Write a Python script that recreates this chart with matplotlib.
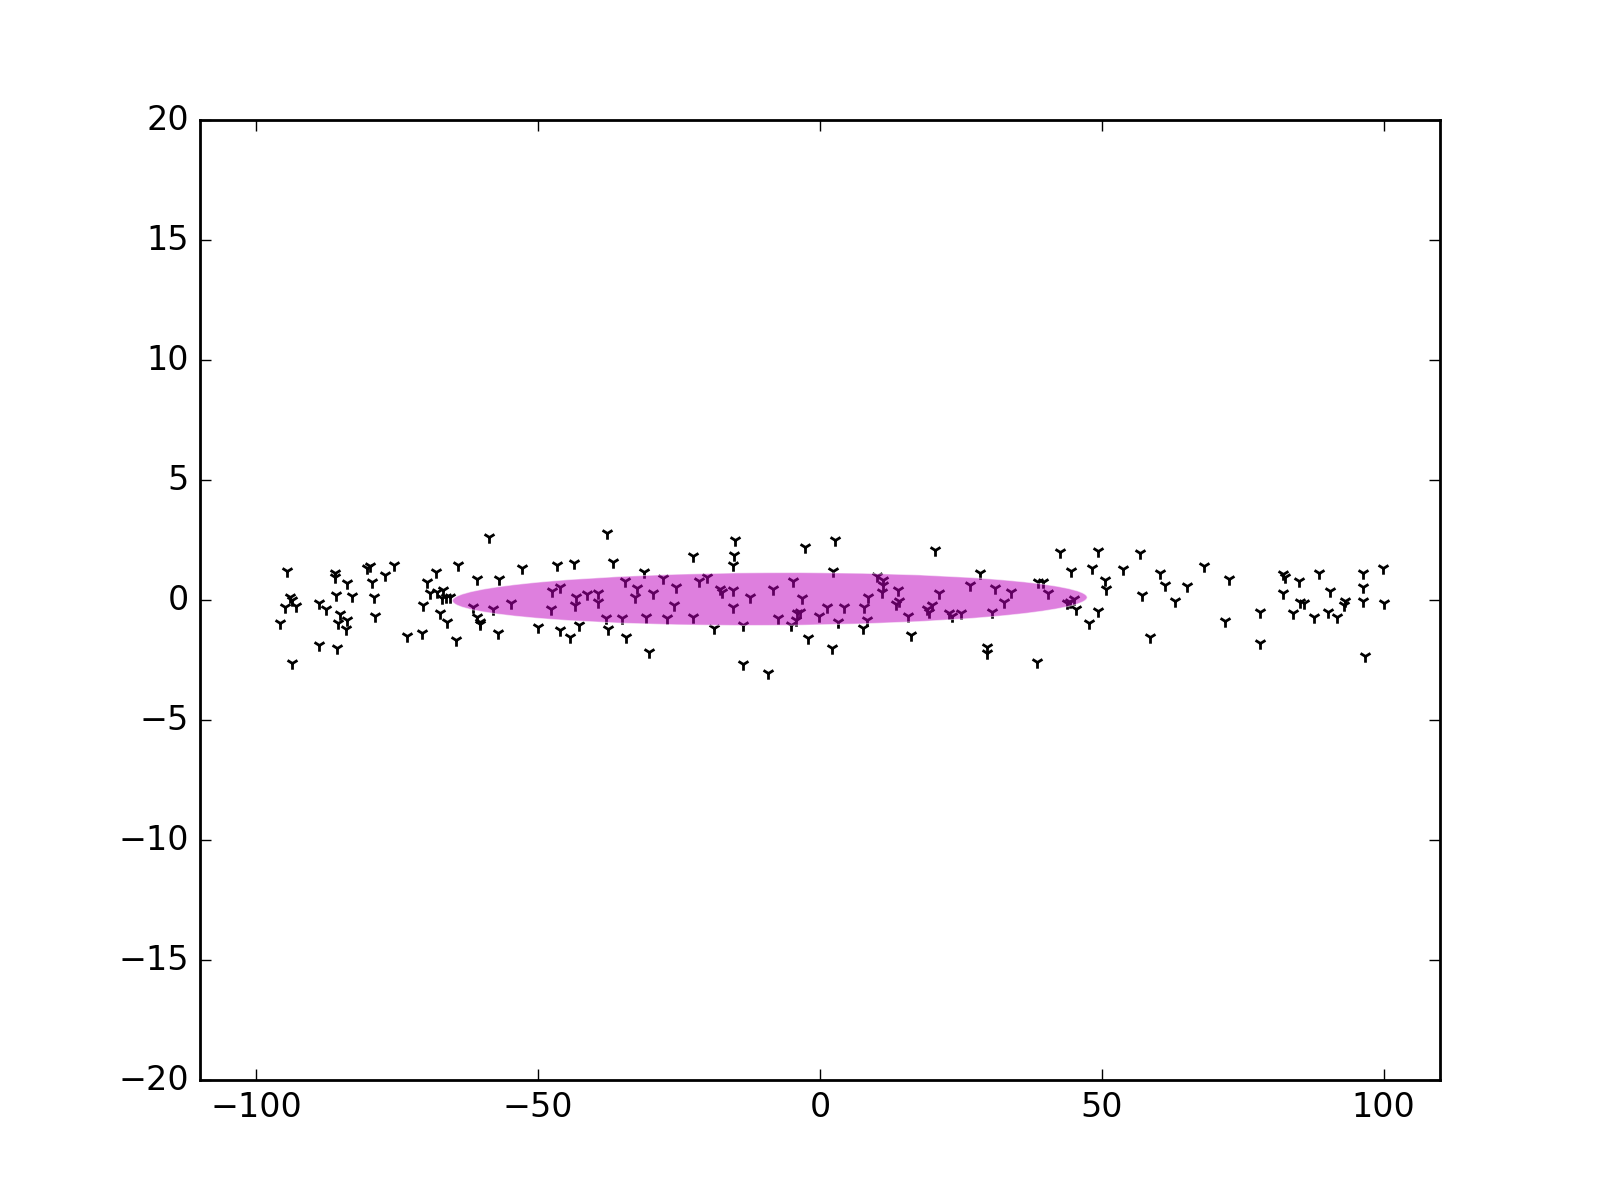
import matplotlib
matplotlib.use('Agg')
import matplotlib.pyplot as plt
from matplotlib.patches import Ellipse

plt.style.use('classic')

# scatter points
x_pts = [
    -94.5, -94.0, -93.7, -94.9, -92.97, -95.8, -93.7, -86.05, -86.05, -83.98,
    -85.9, -83.1, -88.8, -87.65, -85.2, -85.6, -84.0, -84.1, -88.8, -85.75,
    -79.84, -80.3, -75.6, -77.2, -79.55, -79.1, -78.95, -73.3, -70.66, -70.4,
    -69.8, -68.1, -69.2, -68.0, -66.8, -67.1, -66.3, -65.6, -67.4, -66.2,
    -64.5, -64.2,
    -58.66, -60.9, -56.9, -52.9, -46.6, -43.6, -37.85, -36.8, -31.2, -34.6,
    -32.5, -32.8, -29.6, -47.6, -46.1, -43.3, -43.5, -41.4, -39.4, -39.3,
    -47.8, -54.9, -57.95, -61.5, -60.8, -60.4, -60.4, -57.1, -50.0, -46.1,
    -44.35, -42.7, -37.97, -35.2, -37.6, -34.4, -30.9, -30.3,
    -15.1, -22.5, -15.26, -15.4, -2.66, 2.66, 2.36, -27.9, -21.4, -20.0,
    -25.55, -17.7, -17.4, -15.4, -12.5, -8.4, -4.85, -3.25, -25.9, -15.4,
    -27.2, -22.5, -18.8, -13.6, -7.5, -5.2, -4.14, -3.55, -4.26, -0.12,
    1.3, 4.3, 3.25, -2.07, 2.07, -13.6, -9.17,
    20.4, 10.06, 11.24, 11.1, 10.95, 8.58, 7.81, 8.4, 7.58, 13.9,
    14.1, 13.5, 15.7, 16.1, 21.2, 19.8, 19.05, 19.4, 22.95, 23.4,
    25.0, 28.3, 26.6, 31.05, 33.8, 32.65, 30.5, 29.7, 29.7, 38.45,
    38.7, 39.5, 40.5,
    42.5, 49.4, 56.7, 44.5, 48.2, 53.7, 50.6, 50.75, 60.3, 61.2,
    65.1, 68.1, 72.5, 57.1, 63.0, 45.0, 44.4, 43.8, 45.4, 49.4,
    47.8, 58.6, 71.9,
    78.0, 78.1, 82.2, 82.5, 82.1, 84.9, 83.9, 85.2, 85.9, 87.66,
    88.6, 90.5, 90.2, 91.7, 93.2, 93.0, 96.3, 96.4, 96.4, 99.8,
    100.1, 96.7,
]
y_pts = [
    1.22, 0.11, 0.0, -0.28, -0.25, -0.94, -2.64, 1.11, 0.97, 0.69,
    0.21, 0.17, -0.14, -0.39, -0.58, -0.94, -0.83, -1.22, -1.88, -2.01,
    1.42, 1.32, 1.46, 1.04, 0.76, 0.11, -0.67, -1.5, -1.36, -0.21,
    0.76, 1.18, 0.31, 0.35, 0.42, 0.07, 0.11, 0.11, -0.56, -0.90,
    -1.67, 1.46,
    2.61, 0.86, 0.86, 1.32, 1.46, 1.53, 2.78, 1.6, 1.18, 0.81,
    0.49, 0.11, 0.31, 0.39, 0.53, 0.11, -0.21, 0.25, 0.31, -0.07,
    -0.39, -0.11, -0.39, -0.28, -0.69, -0.90, -1.0, -1.39, -1.11, -1.25,
    -1.53, -1.04, -0.76, -0.76, -1.22, -1.56, -0.69, -2.15,
    2.5, 1.83, 1.875, 1.46, 2.19, 2.5, 1.22, 0.90, 0.81, 0.97,
    0.53, 0.44, 0.35, 0.42, 0.11, 0.44, 0.81, 0.07, -0.21, -0.31,
    -0.76, -0.69, -1.18, -1.04, -0.76, -1.04, -0.56, -0.49, -0.83, -0.67,
    -0.31, -0.28, -0.90, -1.6, -2.01, -2.67, -3.03,
    2.08, 1.0, 0.83, 0.63, 0.35, 0.11, -0.28, -0.83, -1.18, 0.42,
    -0.03, -0.17, -0.67, -1.46, 0.28, -0.21, -0.39, -0.49, -0.53, -0.67,
    -0.53, 1.11, 0.63, 0.49, 0.35, -0.07, -0.49, -1.94, -2.19, -2.57,
    0.76, 0.76, 0.28,
    2.01, 2.06, 1.94, 1.22, 1.32, 1.28, 0.83, 0.44, 1.11, 0.63,
    0.58, 1.42, 0.86, 0.21, -0.03, 0.03, -0.07, -0.14, -0.39, -0.44,
    -0.94, -1.53, -0.86,
    -0.49, -1.78, 1.08, 0.97, 0.28, 0.81, -0.53, -0.07, -0.11, -0.72,
    1.11, 0.39, -0.49, -0.72, -0.03, -0.21, 1.14, 0.53, -0.03, 1.32,
    -0.11, -2.33,
]

# ellipse parameters
ell_center = (-8.9, 0.04)
ell_width = 112.6
ell_height = 2.2
ell_angle = 0.07

fig = plt.figure(figsize=(8, 6), dpi=200)
ax = fig.add_subplot(111)

ax.scatter(x_pts, y_pts, marker='1', c='k', s=20, linewidths=1.0)

# light rim as in the reference
ell = Ellipse(ell_center, ell_width, ell_height, angle=ell_angle,
              facecolor='m', edgecolor='w', alpha=0.5, linewidth=0.4)
ax.add_patch(ell)

ax.set_xlim(-110, 110)
ax.set_ylim(-20, 20)

fig.savefig('out.png', dpi=200)
